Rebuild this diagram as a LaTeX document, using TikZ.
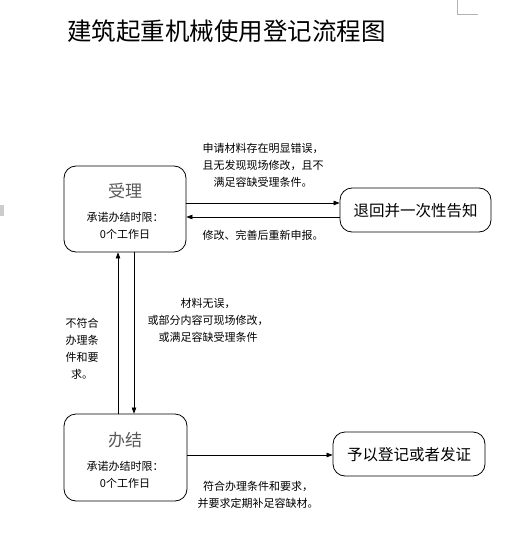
\documentclass[tikz,border=0pt]{standalone}
\usepackage{fontspec}
\setmainfont{Noto Sans CJK SC}
\usetikzlibrary{arrows.meta}
\begin{document}
\begin{tikzpicture}[x=1pt,y=-1pt,
  box/.style={draw,rounded corners=12pt,line width=0.8pt,inner sep=0pt},
  conn/.style={line width=0.7pt,-{Triangle[length=6pt,width=4.5pt]}},
  lbl/.style={font=\fontsize{11}{17}\selectfont,align=center,inner sep=0pt},
  big/.style={font=\fontsize{15.5}{18}\selectfont,inner sep=0pt}]
\useasboundingbox (0,0) rectangle (515,553);
% page marks
\draw[gray!60,line width=0.6pt] (457,0) -- (457,14) -- (478,14);
\fill[gray!40] (0,205) rectangle (4,216);
% title
\node[font=\fontsize{24.5}{28}\selectfont,inner sep=0pt] (title) at (226.5,31) {建筑起重机械使用登记流程图};
% boxes
\node[box,minimum width=122pt,minimum height=86pt] (sl) at (125,209) {};
\node[font=\fontsize{17}{18}\selectfont,text=black!65,inner sep=0pt] (slt) at (125,191) {受理};
\node[lbl] (sld) at (125,226) {承诺办结时限：\\0个工作日};
\node[box,minimum width=151pt,minimum height=44pt] (th) at (415.5,210) {};
\node[big] (tht) at (415.5,211) {退回并一次性告知};
\node[box,minimum width=123pt,minimum height=87pt] (bj) at (125.5,457.5) {};
\node[font=\fontsize{17}{18}\selectfont,text=black!65,inner sep=0pt] (bjt) at (125,440) {办结};
\node[lbl] (bjd) at (125,475) {承诺办结时限：\\0个工作日};
\node[box,minimum width=152pt,minimum height=44pt] (yy) at (409,454) {};
\node[big] (yyt) at (409,455) {予以登记或者发证};
% connectors
\draw[conn] (sl.east |- 0,203) -- (th.west |- 0,203);
\draw[conn] (th.west |- 0,217) -- (sl.east |- 0,217);
\draw[conn] (bj.north -| 118,0) -- (sl.south -| 118,0);
\draw[conn] (sl.south -| 134,0) -- (bj.north -| 134,0);
\draw[conn] (bj.east |- 0,455) -- (yy.west |- 0,455);
% labels
\node[lbl] (l1) at (263,165) {申请材料存在明显错误，\\且无发现现场修改，且不\\满足容缺受理条件。};
\node[lbl] (l2) at (263,235) {修改、完善后重新申报。};
\node[lbl] (l3) at (82,349) {不符合\\办理条\\件和要\\求。};
\node[lbl] (l4) at (208,320) {材料无误，\\或部分内容可现场修改，\\或满足容缺受理条件};
\node[lbl] (l5) at (258,495) {符合办理条件和要求，\\并要求定期补足容缺材。};
\end{tikzpicture}
\end{document}
